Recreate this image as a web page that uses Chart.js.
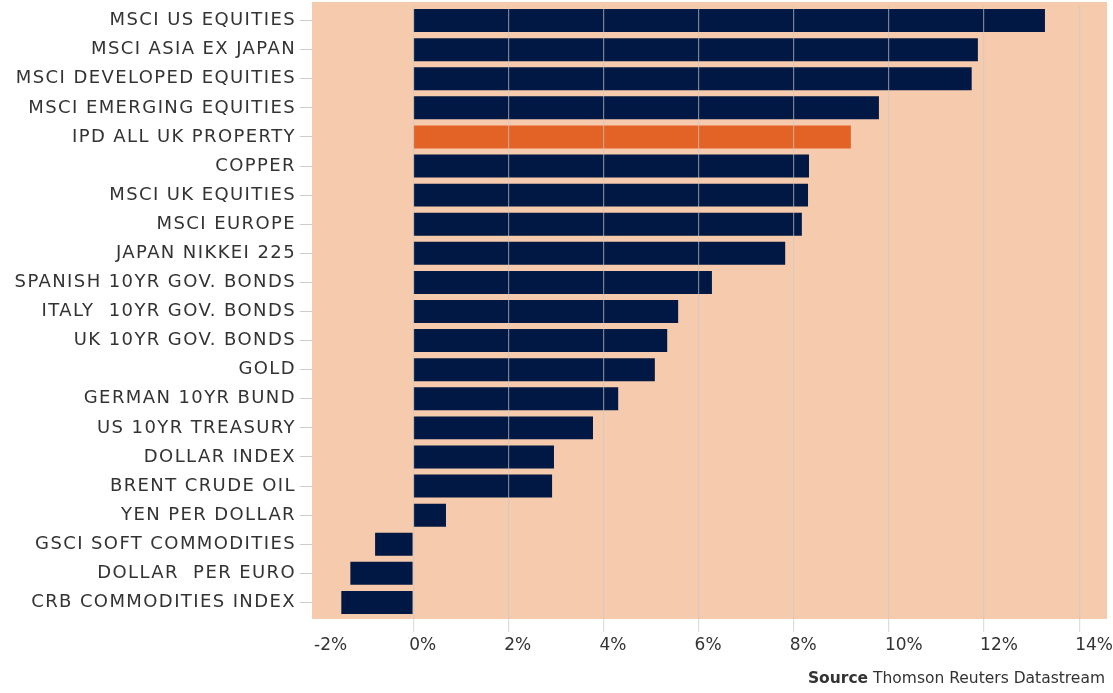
<!DOCTYPE html>
<html>
<head>
<meta charset="utf-8">
<script src="https://cdn.jsdelivr.net/npm/chart.js@4/dist/chart.umd.min.js"></script>
<style>
  html, body { margin: 0; padding: 0; background: #ffffff; }
  #wrap { position: relative; width: 1113px; height: 693px; }
  #source { position: absolute; right: 8px; top: 669px; font-family: "DejaVu Sans", sans-serif; font-size: 15.5px; color: #333333; white-space: nowrap; }
  #source b { font-weight: bold; }
</style>
</head>
<body>
<div id="wrap">
  <canvas id="c" width="1113" height="693"></canvas>
  <div id="source"><b>Source</b> Thomson Reuters Datastream</div>
</div>
<script>
const categories = [
  "MSCI US EQUITIES",
  "MSCI ASIA EX JAPAN",
  "MSCI DEVELOPED EQUITIES",
  "MSCI EMERGING EQUITIES",
  "IPD ALL UK PROPERTY",
  "COPPER",
  "MSCI UK EQUITIES",
  "MSCI EUROPE",
  "JAPAN NIKKEI 225",
  "SPANISH 10YR GOV. BONDS",
  "ITALY  10YR GOV. BONDS",
  "UK 10YR GOV. BONDS",
  "GOLD",
  "GERMAN 10YR BUND",
  "US 10YR TREASURY",
  "DOLLAR INDEX",
  "BRENT CRUDE OIL",
  "YEN PER DOLLAR",
  "GSCI SOFT COMMODITIES",
  "DOLLAR  PER EURO",
  "CRB COMMODITIES INDEX"
];
const returns = [13.28, 11.87, 11.74, 9.79, 9.20, 8.32, 8.30, 8.17, 7.82, 6.28, 5.57, 5.34, 5.08, 4.31, 3.78, 2.96, 2.92, 0.69, -0.80, -1.32, -1.51];
const highlightCategory = "IPD ALL UK PROPERTY";
const xTicks = [-2, 0, 2, 4, 6, 8, 10, 12, 14];

const NAVY = "#001843";
const ORANGE = "#E36326";
const PEACH = "#F5CAAD";
const FONT = "DejaVu Sans";

const barColors = categories.map(c => c === highlightCategory ? ORANGE : NAVY);

const bgPlugin = {
  id: "plotBg",
  beforeDraw(chart) {
    chart.ctx.letterSpacing = "1.4px";
  },
  beforeDatasetsDraw(chart) {
    const a = chart.chartArea;
    const ctx = chart.ctx;
    ctx.save();
    ctx.fillStyle = PEACH;
    ctx.fillRect(a.left - 6, a.top - 4, (a.right - a.left) + 10, (a.bottom - a.top) + 6);
    ctx.restore();
  },
  afterDatasetsDraw(chart) {
    chart.ctx.letterSpacing = "0px";
  }
};

new Chart(document.getElementById("c"), {
  type: "bar",
  data: {
    labels: categories,
    datasets: [{
      data: returns,
      backgroundColor: barColors,
      borderWidth: 0,
      barPercentage: 1.0,
      categoryPercentage: 0.79
    }]
  },
  plugins: [bgPlugin],
  options: {
    indexAxis: "y",
    responsive: false,
    animation: false,
    layout: { padding: { top: 6, right: 10, bottom: 0, left: 0 } },
    plugins: { legend: { display: false }, tooltip: { enabled: false } },
    scales: {
      x: {
        type: "linear",
        min: -2,
        max: 14.5,
        afterBuildTicks(scale) { scale.ticks = xTicks.map(v => ({ value: v })); },
        afterFit(scale) { scale.height = 76; scale.paddingLeft = 0; scale.paddingRight = 0; },
        border: { display: false },
        grid: {
          z: 1,
          color: (ctx) => (ctx.tick && ctx.tick.value === -2) ? "rgba(0,0,0,0)" : "rgba(200,200,200,0.6)",
          lineWidth: 1.2,
          tickLength: 15,
          drawOnChartArea: true
        },
        ticks: {
          z: 1,
          align: "start",
          labelOffset: -4,
          padding: 3,
          color: "#333333",
          font: { family: FONT, size: 17 },
          callback: (v) => v + "%"
        }
      },
      y: {
        afterFit(scale) { scale.width = 318; scale.paddingTop = 0; scale.paddingBottom = 0; },
        border: { display: false },
        grid: {
          offset: false,
          drawOnChartArea: false,
          color: "#cccccc",
          tickLength: 18
        },
        ticks: {
          padding: 4,
          color: "#333333",
          font: { family: FONT, size: 18 }
        }
      }
    }
  }
});
</script>
</body>
</html>
